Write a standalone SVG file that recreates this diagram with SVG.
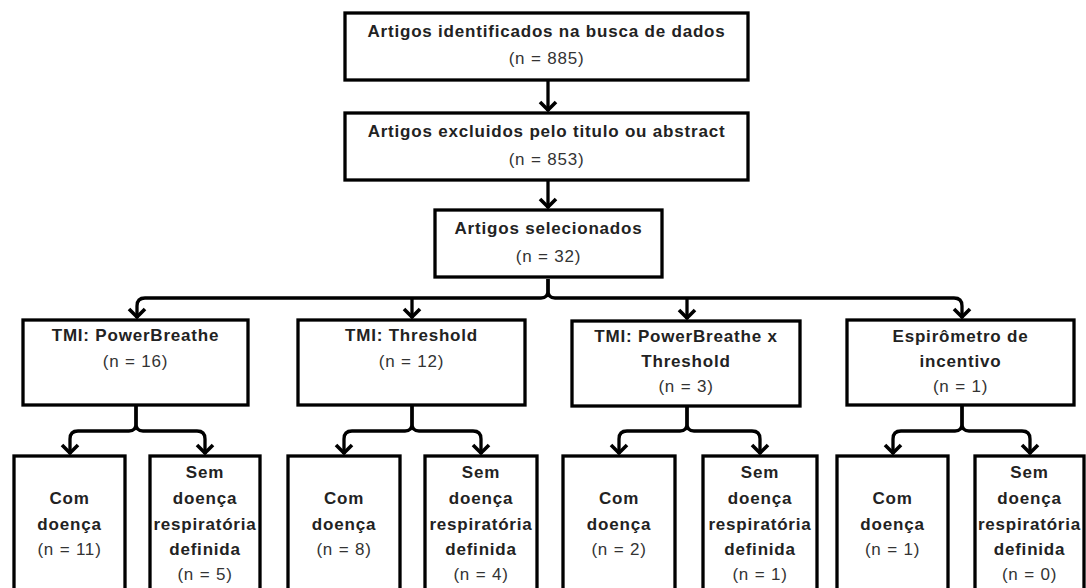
<svg xmlns="http://www.w3.org/2000/svg" width="1086" height="588" viewBox="0 0 1086 588">
<style>
.box{fill:#fff;stroke:#000;stroke-width:3.3}
.t{font-family:"Liberation Sans",Arial,sans-serif;font-size:17px;font-weight:bold;fill:#222;text-anchor:middle;letter-spacing:0.8px}
.n{font-family:"Liberation Sans",Arial,sans-serif;font-size:17px;fill:#333;text-anchor:middle;letter-spacing:0.8px}
.c{fill:none;stroke:#000;stroke-width:3.3}
</style>
<defs>
<marker id="ah" markerUnits="userSpaceOnUse" markerWidth="24" markerHeight="24" viewBox="-12 -12 24 24" refX="0" refY="0" orient="auto" overflow="visible">
<path d="M-9,-8 L-1,0 L-9,8" fill="none" stroke="#000" stroke-width="3.6" stroke-linejoin="miter"/>
</marker>
</defs>
<rect width="1086" height="588" fill="#fff"/>
<g id="n1"><rect class="box" x="345" y="13" width="403" height="67"/>
<text class="t" x="546.5" y="37">Artigos identificados na busca de dados</text>
<text class="n" x="546.5" y="64">(n = 885)</text></g>
<g id="n2"><rect class="box" x="345" y="113" width="403" height="67"/>
<text class="t" x="546.5" y="137">Artigos excluidos pelo titulo ou abstract</text>
<text class="n" x="546.5" y="165">(n = 853)</text></g>
<g id="n3"><rect class="box" x="435" y="210" width="227" height="67"/>
<text class="t" x="548.5" y="234">Artigos selecionados</text>
<text class="n" x="548.5" y="262">(n = 32)</text></g>

<g id="a1"><rect class="box" x="23" y="320" width="225" height="85"/>
<text class="t" x="135.5" y="341">TMI: PowerBreathe</text>
<text class="n" x="135.5" y="367">(n = 16)</text></g>
<g id="a2"><rect class="box" x="298" y="320" width="227" height="85"/>
<text class="t" x="411.5" y="341">TMI: Threshold</text>
<text class="n" x="411.5" y="367">(n = 12)</text></g>
<g id="a3"><rect class="box" x="572" y="321" width="228" height="85"/>
<text class="t" x="686" y="342">TMI: PowerBreathe x</text>
<text class="t" x="686" y="367">Threshold</text>
<text class="n" x="686" y="392">(n = 3)</text></g>
<g id="a4"><rect class="box" x="847" y="320" width="227" height="85"/>
<text class="t" x="960.5" y="342">Espirômetro de</text>
<text class="t" x="960.5" y="367">incentivo</text>
<text class="n" x="960.5" y="392">(n = 1)</text></g>

<g id="b1"><rect class="box" x="14" y="456" width="111" height="150"/>
<text class="t" x="69.5" y="504">Com</text><text class="t" x="69.5" y="530">doença</text><text class="n" x="69.5" y="555">(n = 11)</text></g>
<g id="b2"><rect class="box" x="150" y="456" width="110" height="150"/>
<text class="t" x="205" y="478">Sem</text><text class="t" x="205" y="504">doença</text><text class="t" x="205" y="530">respiratória</text><text class="t" x="205" y="555">definida</text><text class="n" x="205" y="580">(n = 5)</text></g>
<g id="b3"><rect class="box" x="288" y="456" width="112" height="150"/>
<text class="t" x="344" y="504">Com</text><text class="t" x="344" y="530">doença</text><text class="n" x="344" y="555">(n = 8)</text></g>
<g id="b4"><rect class="box" x="425" y="456" width="112" height="150"/>
<text class="t" x="481" y="478">Sem</text><text class="t" x="481" y="504">doença</text><text class="t" x="481" y="530">respiratória</text><text class="t" x="481" y="555">definida</text><text class="n" x="481" y="580">(n = 4)</text></g>
<g id="b5"><rect class="box" x="563" y="456" width="112" height="150"/>
<text class="t" x="619" y="504">Com</text><text class="t" x="619" y="530">doença</text><text class="n" x="619" y="555">(n = 2)</text></g>
<g id="b6"><rect class="box" x="703" y="456" width="114" height="150"/>
<text class="t" x="760" y="478">Sem</text><text class="t" x="760" y="504">doença</text><text class="t" x="760" y="530">respiratória</text><text class="t" x="760" y="555">definida</text><text class="n" x="760" y="580">(n = 1)</text></g>
<g id="b7"><rect class="box" x="837" y="456" width="111" height="150"/>
<text class="t" x="892.5" y="504">Com</text><text class="t" x="892.5" y="530">doença</text><text class="n" x="892.5" y="555">(n = 1)</text></g>
<g id="b8"><rect class="box" x="975" y="456" width="109" height="150"/>
<text class="t" x="1029.5" y="478">Sem</text><text class="t" x="1029.5" y="504">doença</text><text class="t" x="1029.5" y="530">respiratória</text><text class="t" x="1029.5" y="555">definida</text><text class="n" x="1029.5" y="580">(n = 0)</text></g>

<g id="connectors" class="c">
<path class="c" d="M548,81 V111" marker-end="url(#ah)"/>
<path class="c" d="M548,181 V208" marker-end="url(#ah)"/>
<path class="c" d="M548,279 V291 Q548,298 541,298 H145 Q137,298 137,306 V318" marker-end="url(#ah)"/>
<path class="c" d="M548,279 V291 Q548,298 555,298 H954 Q962,298 962,306 V318" marker-end="url(#ah)"/>
<path class="c" d="M412,298 V318" marker-end="url(#ah)"/>
<path class="c" d="M687,298 V319" marker-end="url(#ah)"/>

<path class="c" d="M136,406 V424 Q136,431 129,431 H78 Q70,431 70,439 V454" marker-end="url(#ah)"/>
<path class="c" d="M136,406 V424 Q136,431 143,431 H197 Q205,431 205,439 V454" marker-end="url(#ah)"/>
<path class="c" d="M412,406 V424 Q412,431 405,431 H352 Q344,431 344,439 V454" marker-end="url(#ah)"/>
<path class="c" d="M412,406 V424 Q412,431 419,431 H473 Q481,431 481,439 V454" marker-end="url(#ah)"/>
<path class="c" d="M687,407 V424 Q687,431 680,431 H627 Q619,431 619,439 V454" marker-end="url(#ah)"/>
<path class="c" d="M687,407 V424 Q687,431 694,431 H752 Q760,431 760,439 V454" marker-end="url(#ah)"/>
<path class="c" d="M962,406 V424 Q962,431 955,431 H901 Q893,431 893,439 V454" marker-end="url(#ah)"/>
<path class="c" d="M962,406 V424 Q962,431 969,431 H1022 Q1030,431 1030,439 V454" marker-end="url(#ah)"/>
</g>
</svg>
